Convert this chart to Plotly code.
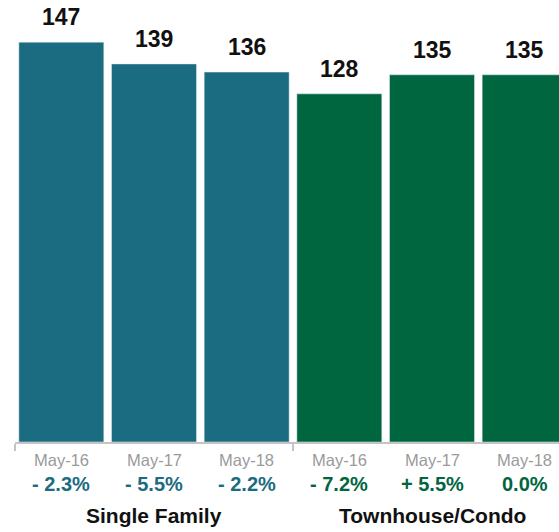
import plotly.graph_objects as go

groups = ["Single Family", "Townhouse/Condo"]
periods = ["May-16", "May-17", "May-18"]
values_sf = [147, 139, 136]
values_tc = [128, 135, 135]
changes_sf = ["- 2.3%", "- 5.5%", "- 2.2%"]
changes_tc = ["- 7.2%", "+ 5.5%", "0.0%"]

teal = "#1b6c80"
green = "#006640"
FONT = "Liberation Sans, Arial, sans-serif"

x_sf = [0, 1, 2]
x_tc = [3, 4, 5]

fig = go.Figure()
fig.add_trace(go.Bar(x=x_sf, y=values_sf, marker_color=teal, width=0.917, hoverinfo="skip"))
fig.add_trace(go.Bar(x=x_tc, y=values_tc, marker_color=green, width=0.917, hoverinfo="skip"))

ann = []
for xs, vals, chg, col in [(x_sf, values_sf, changes_sf, teal), (x_tc, values_tc, changes_tc, green)]:
    for xi, v, c, p in zip(xs, vals, chg, periods):
        ann.append(dict(x=xi, y=v, xref="x", yref="y", text="<b>%d</b>" % v, showarrow=False,
                        yanchor="bottom", yshift=10, font=dict(family=FONT, size=23, color="#111111")))
        ann.append(dict(x=xi, y=0, xref="x", yref="paper", text=p, showarrow=False,
                        yanchor="middle", yshift=-18, font=dict(family=FONT, size=16.5, color="#9a9a9a")))
        ann.append(dict(x=xi, y=0, xref="x", yref="paper", text="<b>%s</b>" % c, showarrow=False,
                        yanchor="middle", yshift=-42, font=dict(family=FONT, size=20, color=col)))
for xg, g in zip([1, 4], groups):
    ann.append(dict(x=xg, y=0, xref="x", yref="paper", text="<b>%s</b>" % g, showarrow=False,
                    yanchor="middle", yshift=-73, font=dict(family=FONT, size=21, color="#111111")))

fig.update_layout(
    width=559, height=532,
    margin=dict(l=15, r=0, t=0, b=90),
    paper_bgcolor="white", plot_bgcolor="white",
    barmode="overlay", showlegend=False,
    annotations=ann,
    xaxis=dict(range=[-0.5, 5.5 - 12 / 92.67], showgrid=False, zeroline=False,
               showline=True, linecolor="#c4c4c4", linewidth=2,
               tickmode="array", tickvals=[-0.5, 2.5, 5.5], ticks="outside", ticklen=7,
               tickcolor="#c4c4c4", tickwidth=2, showticklabels=False, fixedrange=True),
    yaxis=dict(range=[0, 162.5], visible=False, fixedrange=True),
)

fig.write_html("out.html", config={"displayModeBar": False})
